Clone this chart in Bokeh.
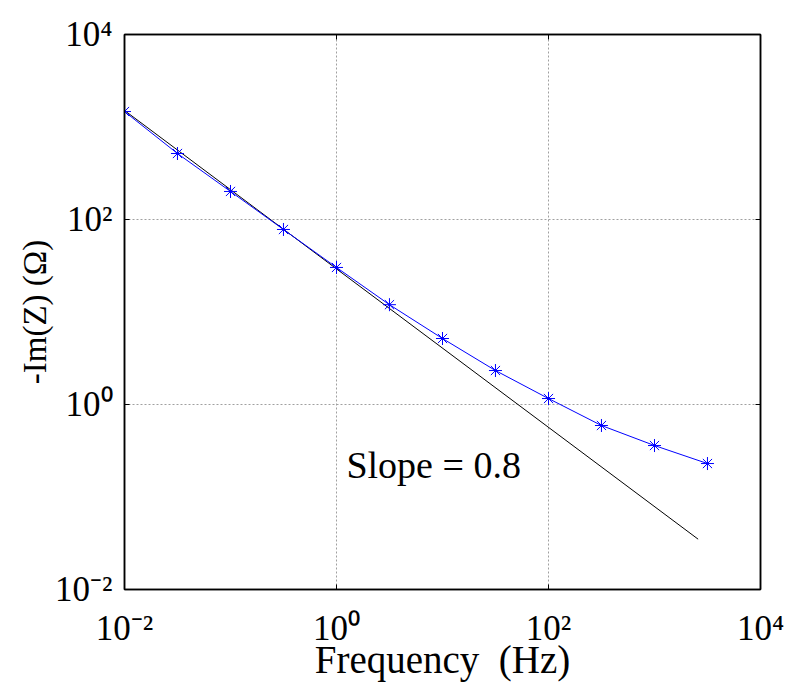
import numpy as np
from bokeh.plotting import figure
from bokeh.models import Label, FixedTicker, LogAxis, Range1d
from bokeh.embed import file_html
from bokeh.resources import INLINE

# ---- data ----
freq = [0.01, 0.0316, 0.1, 0.316, 1.0, 3.16, 10.0, 31.6, 100.0, 316.0, 1000.0, 3160.0]
im_z = [1470, 517, 201, 78, 30.3, 12.0, 5.17, 2.33, 1.16, 0.593, 0.360, 0.230]
fit_freq = [0.01, 2580.0]
fit_im_z = [1510.0, 0.035]
tick_values = [1e-2, 1e0, 1e2, 1e4]
tick_labels = ["10\u207b\u00b2", "10\u2070", "10\u00b2", "10\u2074"]
slope_text = "Slope = 0.8"
slope_pos = (1.24, 0.22)

FONT = "Liberation Serif"
XMIN, XMAX = tick_values[0], tick_values[-1]
YMIN, YMAX = tick_values[0], tick_values[-1]

p = figure(width=787, height=686, x_axis_type="log", y_axis_type="log",
           x_range=Range1d(XMIN, XMAX), y_range=Range1d(YMIN, YMAX),
           output_backend="svg", toolbar_location=None,
           min_border_left=124, min_border_right=27, min_border_top=34, min_border_bottom=97)
p.background_fill_color = "white"
p.border_fill_color = "white"
p.outline_line_color = "black"
p.outline_line_width = 1.5

ticker = FixedTicker(ticks=tick_values, minor_ticks=[])
labels = dict(zip(tick_values, tick_labels))
blank = {t: "" for t in tick_values}
for ax in [p.xaxis[0], p.yaxis[0]]:
    ax.ticker = ticker
    ax.major_tick_in = 5
    ax.major_tick_out = 0
    ax.minor_tick_line_color = None
    ax.major_label_overrides = labels
    ax.major_label_text_font = FONT
    ax.major_label_text_font_size = "35px"
    ax.major_label_text_color = "black"
    ax.axis_line_color = "black"
    ax.axis_line_width = 1.5
    ax.axis_label_text_font = FONT
    ax.axis_label_text_font_style = "normal"
    ax.axis_label_text_color = "black"

p.xaxis.major_label_standoff = 19
p.yaxis.major_label_standoff = 12
p.xaxis.axis_label = "Frequency\u00a0 (Hz)"
p.yaxis.axis_label = "-Im(Z) (\u03a9)"
p.xaxis.axis_label_text_font_size = "39px"
p.yaxis.axis_label_text_font_size = "33px"
p.xaxis.axis_label_standoff = -13
p.yaxis.axis_label_standoff = -1

for loc in ["right", "above"]:
    ax = LogAxis(ticker=ticker, major_tick_in=5, major_tick_out=0,
                 minor_tick_line_color=None, major_label_overrides=blank,
                 axis_line_color="black", axis_line_width=1.5)
    p.add_layout(ax, loc)

for g in [p.xgrid[0], p.ygrid[0]]:
    g.ticker = ticker
    g.grid_line_color = "#a0a0a0"
    g.grid_line_dash = "2 2"
    g.grid_line_width = 1

# fitted line
p.line(fit_freq, fit_im_z, line_color="black", line_width=1)
# data
p.line(freq, im_z, line_color="#0000ff", line_width=1)
p.scatter(freq, im_z, marker="asterisk", size=13, line_color="#0000ff", line_width=1)

p.add_layout(Label(x=slope_pos[0], y=slope_pos[1], text=slope_text, text_font=FONT,
                   text_font_size="38px", text_color="black", text_baseline="alphabetic"))

open("out.html", "w").write(file_html(p, INLINE))
